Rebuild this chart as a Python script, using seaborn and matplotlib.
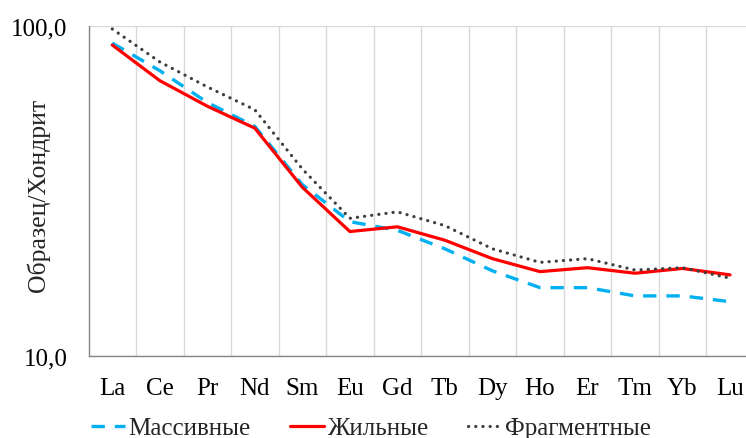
import matplotlib
matplotlib.use("Agg")
import matplotlib.pyplot as plt
import matplotlib.ticker as mticker
import seaborn as sns
import pandas as pd

# REE elements (chondrite-normalised)
elements = ["La", "Ce", "Pr", "Nd", "Sm", "Eu", "Gd", "Tb", "Dy", "Ho", "Er", "Tm", "Yb", "Lu"]

massive = [88.5, 73.0, 58.5, 49.5, 33.0, 25.5, 24.0, 21.1, 18.1, 16.1, 16.1, 15.2, 15.2, 14.6]
veined = [87.3, 68.1, 57.0, 48.9, 32.4, 23.8, 24.6, 22.4, 19.7, 18.0, 18.5, 17.8, 18.4, 17.6]
fragmented = [97.6, 77.6, 65.2, 55.6, 36.8, 26.1, 27.3, 24.8, 21.1, 19.2, 19.7, 18.2, 18.5, 17.2]

series_names = ["Массивные", "Жильные", "Фрагментные"]
series_values = [massive, veined, fragmented]

y_ticks = [10, 100]
y_tick_labels = ["10,0", "100,0"]
y_label = "Образец/Хондрит"

rows = []
for name, vals in zip(series_names, series_values):
    for i, (el, v) in enumerate(zip(elements, vals)):
        rows.append({"series": name, "pos": i, "element": el, "value": v})
df = pd.DataFrame(rows)

sns.set_theme(style="white")
plt.rcParams["font.family"] = ["Liberation Serif", "DejaVu Serif"]
plt.rcParams["lines.scale_dashes"] = True

FS = 18

W, H = 746, 439
fig = plt.figure(figsize=(W / 100, H / 100), dpi=100)
left_px, right_px, top_px, bottom_px = 88.5, 753.8, 26.5, 357.0
ax = fig.add_axes([left_px / W, 1 - bottom_px / H,
                   (right_px - left_px) / W, (bottom_px - top_px) / H])

styles = {
    "Массивные": dict(color="#00B0F0", linewidth=2.4, linestyle=(0, (4, 3))),
    "Жильные": dict(color="#FF0000", linewidth=2.3, linestyle="-"),
    "Фрагментные": dict(color="#3F3F3F", linewidth=2.3, linestyle=(0, (0.05, 2.2)),
                        dash_capstyle="round"),
}

for name in series_names:
    sub = df[df["series"] == name]
    sns.lineplot(data=sub, x="pos", y="value", ax=ax, label=name,
                 **styles[name])

ax.set_yscale("log")
ax.set_ylim(10, 100)
ax.set_xlim(-0.5, len(elements) - 0.5)

ax.yaxis.set_major_locator(mticker.FixedLocator(y_ticks))
ax.yaxis.set_major_formatter(mticker.FixedFormatter(y_tick_labels))
ax.yaxis.set_minor_locator(mticker.NullLocator())

ax.xaxis.set_major_locator(mticker.FixedLocator(range(len(elements))))
ax.xaxis.set_major_formatter(mticker.FixedFormatter(elements))
ax.xaxis.set_minor_locator(mticker.FixedLocator([i + 0.5 for i in range(len(elements))]))

ax.grid(False)
ax.grid(which="minor", axis="x", color="#D9D9D9", linewidth=1.0)
ax.grid(which="major", axis="y", color="#D9D9D9", linewidth=1.0)
ax.set_axisbelow(True)

ax.tick_params(axis="both", which="both", length=0, labelsize=FS, colors="black")
ax.tick_params(axis="y", pad=15)
ax.tick_params(axis="x", pad=15)

for side in ["top", "right"]:
    ax.spines[side].set_visible(False)
for side in ["left", "bottom"]:
    ax.spines[side].set_color("#868686")
    ax.spines[side].set_linewidth(1.0)

ax.set_xlabel("")
ax.set_ylabel(y_label, fontsize=FS + 0.5)
ax.yaxis.set_label_coords(-0.058, 0.49)

ax.legend_.remove()
handles, labels = ax.get_legend_handles_labels()
fig.legend(handles, labels, loc="center", bbox_to_anchor=(371 / W, 1 - 429 / H),
           ncol=3, frameon=False, fontsize=FS, handlelength=1.35,
           handletextpad=0.12, columnspacing=1.6, borderpad=0, borderaxespad=0)

fig.savefig("out.png", dpi=100)
